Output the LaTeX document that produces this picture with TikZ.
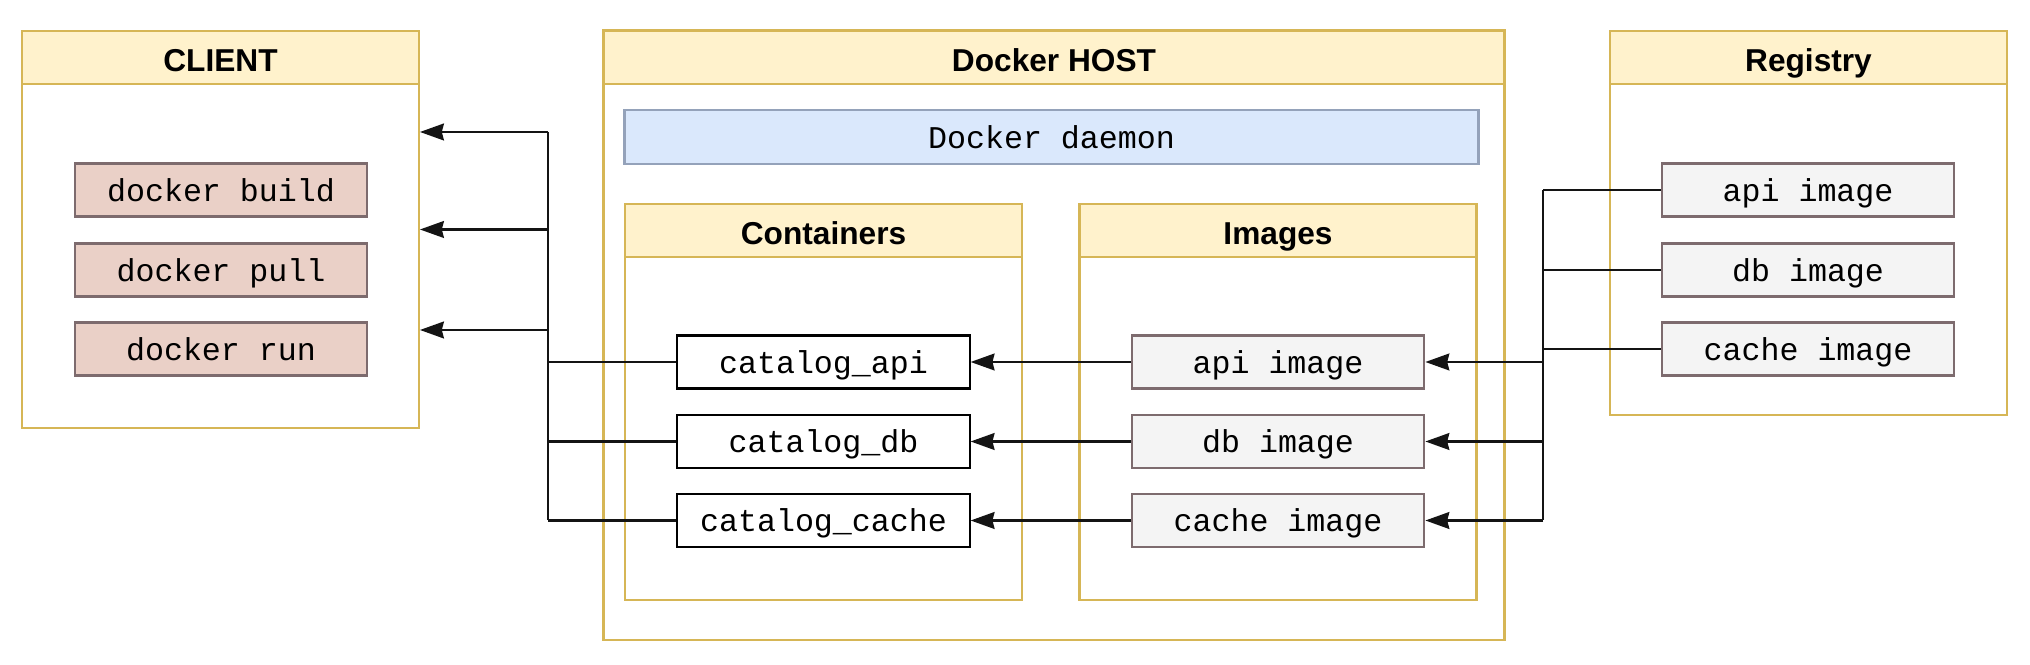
\documentclass[tikz,border=0pt]{standalone}
\usepackage{fontspec}
\setmainfont{Liberation Sans}
\setmonofont{Liberation Mono}
\usetikzlibrary{arrows.meta,positioning}

\definecolor{hdfill}{HTML}{FFF2CC}
\definecolor{hdline}{HTML}{D6B656}
\definecolor{cmdfill}{HTML}{EAD0C7}
\definecolor{itemline}{HTML}{7D6B6E}
\definecolor{dmfill}{HTML}{DAE8FC}
\definecolor{dmline}{HTML}{94A2BA}
\definecolor{imgfill}{HTML}{F4F4F4}

\tikzset{
  group/.style={draw=hdline, line width=0.75pt, minimum width=3.97cm, inner sep=0pt},
  header/.style={draw=hdline, fill=hdfill, line width=0.75pt, minimum width=3.97cm,
    minimum height=0.53cm, anchor=north, inner sep=0pt, text height=8pt, text depth=0pt,
    font=\fontsize{9pt}{11pt}\selectfont\bfseries},
  item/.style={line width=0.75pt, minimum width=2.92cm, minimum height=0.53cm,
    inner sep=0pt, text height=7.2pt, text depth=0.8pt,
    font=\fontsize{9pt}{11pt}\selectfont\ttfamily},
  cmd/.style={item, draw=itemline, fill=cmdfill},
  cont/.style={item, draw=black, fill=white, line width=0.6pt},
  img/.style={item, draw=itemline, fill=imgfill},
  line/.style={draw=black!92, line width=0.6pt},
  flow/.style={line, -{Stealth[length=6.8pt,width=4.8pt,inset=0.6pt]}},
}

\begin{document}
\begin{tikzpicture}[x=0.01cm, y=-0.01cm]
\useasboundingbox (0,0) rectangle (2030,665);

% groups
\node[group, minimum height=3.97cm] (client) at (220.5,229.5) {};
\node[header] (clienthd) at (client.north) {CLIENT};

\node[group, minimum width=9.0cm, minimum height=6.09cm] (host) at (1054,335.5) {};
\node[header, minimum width=9.0cm] (hosthd) at (host.north) {Docker HOST};

\node[group, minimum height=3.96cm] (conts) at (823.5,402) {};
\node[header] (contshd) at (conts.north) {Containers};

\node[group, minimum height=3.96cm] (imgs) at (1278,402) {};
\node[header] (imgshd) at (imgs.north) {Images};

\node[group, minimum height=3.84cm] (reg) at (1808.5,223) {};
\node[header] (reghd) at (reg.north) {Registry};

% daemon
\node[item, draw=dmline, fill=dmfill, minimum width=8.53cm, minimum height=0.54cm]
  (daemon) at (1051.5,137) {Docker daemon};

% client commands
\node[cmd] (build) at (221,190)  {docker build};
\node[cmd] (pull)  at (221,270)  {docker pull};
\node[cmd] (run)   at (221,349)  {docker run};

% containers
\node[cont] (capi)   at (823.5,362)   {catalog\_api};
\node[cont] (cdb)    at (823.5,441.5) {catalog\_db};
\node[cont] (ccache) at (823.5,520.5) {catalog\_cache};

% host images
\node[img] (iapi)   at (1278,362)   {api image};
\node[img] (idb)    at (1278,441.5) {db image};
\node[img] (icache) at (1278,520.5) {cache image};

% registry images
\node[img] (rapi)   at (1808,190) {api image};
\node[img] (rdb)    at (1808,270) {db image};
\node[img] (rcache) at (1808,349) {cache image};

% bus points
\coordinate (lbus) at (548,132);
\coordinate (rbus) at (1543,190);
\coordinate (cl1) at (420,132);
\coordinate (cl2) at (420,229.5);
\coordinate (cl3) at (420,330);

% containers -> client
\foreach \n in {capi,cdb,ccache}
  \path[line] (\n.west) -- (\n.west -| lbus);
\path[line] (lbus) -- (lbus |- ccache.west);
\foreach \n in {cl1,cl2,cl3}
  \path[flow] (lbus |- \n) -- (\n);

% images -> containers
\foreach \f/\t in {iapi/capi, idb/cdb, icache/ccache}
  \path[flow] (\f) -- (\t);

% registry -> images
\foreach \n in {rapi,rdb,rcache}
  \path[line] (\n.west) -- (\n.west -| rbus);
\path[line] (rbus) -- (rbus |- icache.east);
\foreach \n in {iapi,idb,icache}
  \path[flow] (rbus |- \n.east) -- (\n.east);

\end{tikzpicture}
\end{document}
